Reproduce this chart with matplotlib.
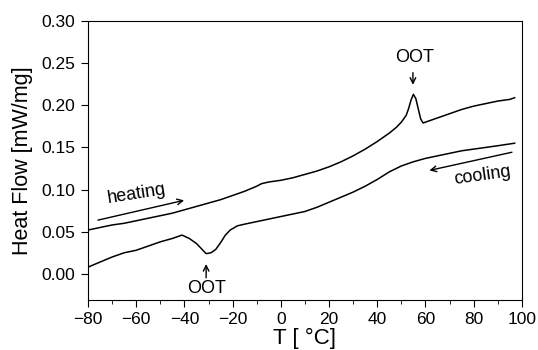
import matplotlib.pyplot as plt
from matplotlib.ticker import MultipleLocator

plt.rcParams['font.family'] = ['Liberation Sans', 'DejaVu Sans']

# heating run (upper curve)
t_heat = [-80, -75, -70, -65, -60, -55, -50, -45, -40, -35, -30, -25, -20, -15,
          -10, -8, -5, 0, 5, 10, 15, 20, 25, 30, 35, 40, 45, 48, 50, 52, 53, 54,
          55, 56, 57, 58, 59, 60, 63, 67, 70, 75, 80, 85, 90, 95, 97]
q_heat = [0.052, 0.055, 0.058, 0.060, 0.063, 0.066, 0.069, 0.072, 0.076, 0.080,
          0.084, 0.088, 0.093, 0.098, 0.104, 0.107, 0.109, 0.111, 0.114, 0.118,
          0.122, 0.127, 0.133, 0.140, 0.148, 0.157, 0.167, 0.174, 0.180, 0.188,
          0.196, 0.206, 0.213, 0.208, 0.196, 0.184, 0.179, 0.180, 0.183, 0.187,
          0.190, 0.195, 0.199, 0.202, 0.205, 0.207, 0.209]

# cooling run (lower curve)
t_cool = [-80, -75, -70, -65, -60, -55, -50, -45, -41, -38, -35, -33, -31, -29,
          -27, -25, -23, -21, -18, -15, -10, -5, 0, 5, 10, 15, 20, 25, 30, 35,
          40, 45, 50, 55, 60, 65, 70, 75, 80, 85, 90, 97]
q_cool = [0.008, 0.014, 0.020, 0.025, 0.028, 0.033, 0.038, 0.042, 0.046, 0.042,
          0.036, 0.030, 0.024, 0.025, 0.029, 0.037, 0.046, 0.052, 0.057, 0.059,
          0.062, 0.065, 0.068, 0.071, 0.074, 0.079, 0.085, 0.091, 0.097, 0.104,
          0.112, 0.121, 0.128, 0.133, 0.137, 0.140, 0.143, 0.146, 0.148, 0.150,
          0.152, 0.155]

fig = plt.figure(figsize=(5.38, 3.5), dpi=100)
ax = fig.add_axes([0.1636, 0.1429, 0.8064, 0.7971])

ax.plot(t_heat, q_heat, c='k', lw=1.1)
ax.plot(t_cool, q_cool, c='k', lw=1.1)

arr = dict(arrowstyle='->', color='k', lw=1.0)
ax.annotate('', xy=(-39, 0.088), xytext=(-77, 0.063), arrowprops=arr)
ax.text(-60, 0.095, 'heating', fontsize=13, rotation=9, ha='center', va='center')
ax.annotate('', xy=(60.5, 0.122), xytext=(97, 0.145), arrowprops=arr)
ax.text(83.5, 0.117, 'cooling', fontsize=13, rotation=8, ha='center', va='center')

ax.annotate('', xy=(54.8, 0.221), xytext=(54.8, 0.242), arrowprops=arr)
ax.text(55.5, 0.257, 'OOT', fontsize=13, ha='center', va='center')
ax.annotate('', xy=(-31, 0.015), xytext=(-31, -0.008), arrowprops=arr)
ax.text(-31, -0.017, 'OOT', fontsize=13, ha='center', va='center')

ax.set_xlim(-80, 100)
ax.set_ylim(-0.031, 0.30)
ax.xaxis.set_major_locator(MultipleLocator(20))
ax.xaxis.set_minor_locator(MultipleLocator(10))
ax.yaxis.set_major_locator(MultipleLocator(0.05))
ax.yaxis.set_major_formatter(plt.FormatStrFormatter('%.2f'))
ax.tick_params(direction='out', labelsize=12.5, length=5, pad=4)
ax.tick_params(which='minor', direction='out', length=3)
ax.set_xlabel('T [ °C]', fontsize=16, labelpad=0)
ax.set_ylabel('Heat Flow [mW/mg]', fontsize=15.5, labelpad=6)

fig.savefig('out.png', dpi=100)
